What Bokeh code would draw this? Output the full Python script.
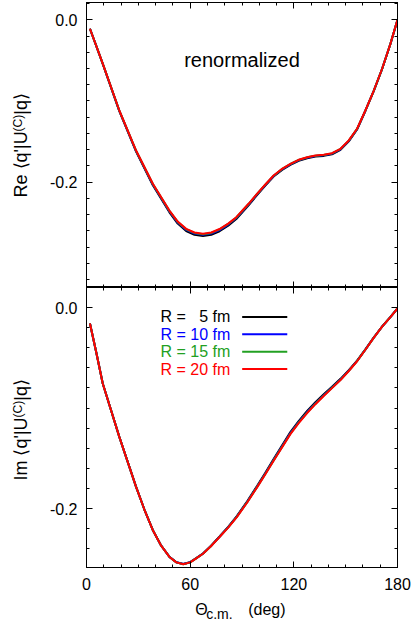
import math
from bokeh.plotting import figure
from bokeh.models import (ColumnDataSource, LinearAxis, SingleIntervalTicker,
                          CustomJSTickFormatter, Label, Range1d)
from bokeh.layouts import column, row
from bokeh.embed import file_html
from bokeh.resources import INLINE
from bokeh.core.properties import value

# ---------------- data ----------------
theta_re = [2, 5.7, 9.4, 19, 28.7, 38.4, 48, 52.8, 57.7, 62.5, 67.4, 72.2, 77, 82,
            86.7, 93.8, 98.7, 103.5, 108.3, 113.2, 118, 122.8, 127.7, 132.5, 137.3,
            142.1, 147, 151.8, 156.6, 161.4, 166.3, 171.1, 175.9, 180]
re_r20 = [-0.011, -0.0325, -0.054, -0.1117, -0.161, -0.202, -0.2349, -0.2485,
          -0.2575, -0.2620, -0.2635, -0.2620, -0.2577, -0.2510, -0.2431, -0.2266,
          -0.2143, -0.2028, -0.1918, -0.1835, -0.1774, -0.1724, -0.1692, -0.1671,
          -0.1663, -0.1643, -0.1589, -0.1486, -0.1342, -0.1117, -0.0871, -0.0603,
          -0.0296, 0.000]
re_r15 = [-0.011, -0.0325, -0.054, -0.1118, -0.1612, -0.2023, -0.2353, -0.2489,
          -0.2580, -0.2625, -0.2640, -0.2625, -0.2582, -0.2514, -0.2435, -0.2269,
          -0.2145, -0.2030, -0.1920, -0.1837, -0.1776, -0.1726, -0.1694, -0.1673,
          -0.1665, -0.1645, -0.1591, -0.1488, -0.1344, -0.1118, -0.0872, -0.0604,
          -0.0296, 0.000]
re_r10 = [-0.011, -0.0325, -0.0541, -0.1121, -0.1617, -0.2029, -0.2360, -0.2497,
          -0.2588, -0.2633, -0.2648, -0.2633, -0.2590, -0.2522, -0.2442, -0.2275,
          -0.2151, -0.2035, -0.1924, -0.1841, -0.1780, -0.1730, -0.1698, -0.1677,
          -0.1669, -0.1649, -0.1595, -0.1491, -0.1346, -0.1120, -0.0873, -0.0604,
          -0.0297, 0.000]
re_r5 = [-0.011, -0.0326, -0.0543, -0.1125, -0.1624, -0.2038, -0.2371, -0.2510,
         -0.2602, -0.2647, -0.2662, -0.2647, -0.2604, -0.2535, -0.2453, -0.2285,
         -0.2159, -0.2042, -0.1931, -0.1848, -0.1787, -0.1737, -0.1705, -0.1684,
         -0.1676, -0.1656, -0.1602, -0.1497, -0.1351, -0.1123, -0.0876, -0.0606,
         -0.0298, 0.000]

theta_im = [2, 5.7, 9.4, 19, 28.7, 33.5, 38.4, 43, 48, 52, 56, 60, 63.5, 67.4, 72,
            77, 82, 87, 93, 98.7, 103.5, 108.3, 118, 122.8, 127.7, 132.5, 137.3,
            142.1, 147, 151.8, 156.6, 161.4, 166.3, 171.1, 175.9, 180]
im_r20 = [-0.0159, -0.045, -0.0756, -0.1287, -0.1785, -0.2010, -0.2216, -0.2364,
          -0.2482, -0.2536, -0.2554, -0.2536, -0.2496, -0.2450, -0.2375, -0.2283,
          -0.2190, -0.2085, -0.1940, -0.1790, -0.1660, -0.1525, -0.1260, -0.1150,
          -0.1050, -0.0962, -0.0880, -0.0802, -0.0722, -0.0632, -0.0535, -0.0420,
          -0.0300, -0.0190, -0.0095, -0.001]
im_r15 = [-0.0159, -0.045, -0.0756, -0.1287, -0.1785, -0.2010, -0.2216, -0.2364,
          -0.2482, -0.2536, -0.2554, -0.2536, -0.2496, -0.2450, -0.2375, -0.2282,
          -0.2188, -0.2083, -0.1937, -0.1787, -0.1656, -0.1521, -0.1256, -0.1146,
          -0.1046, -0.0958, -0.0877, -0.0799, -0.0720, -0.0631, -0.0534, -0.0420,
          -0.0300, -0.0190, -0.0095, -0.001]
im_r10 = [-0.0159, -0.045, -0.0756, -0.1287, -0.1785, -0.2010, -0.2216, -0.2364,
          -0.2481, -0.2535, -0.2553, -0.2535, -0.2495, -0.2449, -0.2374, -0.2281,
          -0.2186, -0.2080, -0.1934, -0.1783, -0.1652, -0.1516, -0.1250, -0.1140,
          -0.1040, -0.0952, -0.0872, -0.0795, -0.0716, -0.0628, -0.0532, -0.0419,
          -0.0299, -0.0190, -0.0095, -0.001]
im_r5 = [-0.0159, -0.045, -0.0756, -0.1287, -0.1785, -0.2010, -0.2215, -0.2363,
         -0.2480, -0.2534, -0.2552, -0.2534, -0.2494, -0.2448, -0.2373, -0.2278,
         -0.2182, -0.2075, -0.1928, -0.1776, -0.1644, -0.1507, -0.1240, -0.1130,
         -0.1030, -0.0942, -0.0863, -0.0788, -0.0710, -0.0624, -0.0528, -0.0417,
         -0.0298, -0.0189, -0.0094, -0.001]

series_colors = ["#000000", "#0000ff", "#22a022", "#ff0000"]
legend_labels = ["R = \u20075 fm", "R = 10 fm", "R = 15 fm", "R = 20 fm"]

x_tick_interval = 60
y_tick_interval = 0.2

FONT = "Liberation Sans"
BL, BR = 46, 14   # left/right borders of the plot columns
MID = 0.3465      # em offset between text middle and alphabetic baseline

# ---------------- helpers ----------------
def style_axis(ax, show_labels, ticker, formatter, standoff):
    ax.ticker = ticker
    ax.formatter = formatter
    ax.axis_line_color = "black"
    ax.axis_line_width = 1
    ax.major_tick_in = 6
    ax.major_tick_out = 0
    ax.minor_tick_in = 3
    ax.minor_tick_out = 0
    ax.major_tick_line_color = "black"
    ax.minor_tick_line_color = "black"
    if show_labels:
        ax.major_label_text_font = FONT
        ax.major_label_text_font_size = "16px"
        ax.major_label_text_color = "black"
        ax.major_label_standoff = standoff
    else:
        ax.major_label_text_color = None
        ax.major_label_standoff = 0


def xt():
    return (SingleIntervalTicker(interval=x_tick_interval, num_minor_ticks=6),
            CustomJSTickFormatter(code="return tick.toFixed(0)"))


def yt():
    return (SingleIntervalTicker(interval=y_tick_interval, num_minor_ticks=10),
            CustomJSTickFormatter(code="return tick.toFixed(1)"))


def make_fig(height, y0, y1, b_top, b_bottom, show_x_labels):
    p = figure(width=371, height=height, x_range=Range1d(0, 180),
               y_range=Range1d(y0, y1), output_backend="svg",
               toolbar_location=None, x_axis_type=None, y_axis_type=None,
               min_border_left=BL, min_border_right=BR,
               min_border_top=b_top, min_border_bottom=b_bottom)
    p.outline_line_color = "black"
    p.outline_line_width = 1
    p.background_fill_color = "white"
    p.border_fill_color = "white"
    a = LinearAxis(); style_axis(a, True, *yt(), 9); p.add_layout(a, "left")
    a = LinearAxis(); style_axis(a, False, *yt(), 0); p.add_layout(a, "right")
    a = LinearAxis(); style_axis(a, show_x_labels, *xt(), 10); p.add_layout(a, "below")
    a = LinearAxis(); style_axis(a, False, *xt(), 0); p.add_layout(a, "above")
    return p


def text_fig(width, height, xr, yr, bl=0, br=0):
    p = figure(width=width, height=height, x_range=Range1d(*xr),
               y_range=Range1d(*yr), output_backend="svg",
               toolbar_location=None, x_axis_type=None, y_axis_type=None,
               min_border_left=bl, min_border_right=br,
               min_border_top=0, min_border_bottom=0)
    p.outline_line_color = None
    p.background_fill_color = "white"
    p.border_fill_color = "white"
    return p


def put(p, x, y, txt, size, angle=0.0):
    p.text(x=[x], y=[y], text=[txt], angle=angle, text_font=value(FONT),
           text_font_size=f"{size}px", text_color="black", text_align="left",
           text_baseline="middle")


# ---------------- top panel (Re) ----------------
top = make_fig(287, -0.3297, 0.0213, 2, 0, False)
for ys, c in zip([re_r5, re_r10, re_r15, re_r20], series_colors):
    top.line(theta_re, ys, line_color=c, line_width=2)
top.add_layout(Label(x=90, y=-0.05, text="renormalized", text_font=FONT,
                     text_font_size="20px", text_align="center",
                     text_baseline="middle", text_color="black"))

# ---------------- bottom panel (Im) ----------------
bot = make_fig(310, -0.2587, 0.0199, 0, 30, True)
for ys, c in zip([im_r5, im_r10, im_r15, im_r20], series_colors):
    bot.line(theta_im, ys, line_color=c, line_width=2)

leg_y0, leg_dy = -0.0094, -0.0173
leg_src = ColumnDataSource(dict(
    text=legend_labels,
    color=series_colors,
    y=[leg_y0 + i * leg_dy for i in range(len(legend_labels))],
))
bot.text(x=83.2, y="y", text="text", text_color="color", source=leg_src,
         text_font=value(FONT), text_font_size="16px",
         text_align="right", text_baseline="middle")
bot.segment(x0=90.1, x1=116.2, y0="y", y1="y", line_color="color",
            line_width=2, source=leg_src)

# ---------------- y-axis titles (rotated, with superscript) ----------------
ylab = text_fig(40, 622, (0, 40), (0, 622))
A = math.pi / 2
BASE, SUPBASE = 26.5, 21.5          # baselines (page x) of main text / superscript
MX = BASE - MID * 18                # middle line for 18px text
SX = SUPBASE - MID * 12             # middle line for 12px superscript
put(ylab, MX, 425, "Re \u27e8q'|U", 18, A)
put(ylab, SX, 425 + 66, "(C)", 12, A)
put(ylab, MX, 425 + 66 + 16.7, "|q\u27e9", 18, A)
put(ylab, MX, 142, "Im \u27e8q'|U", 18, A)
put(ylab, SX, 142 + 63, "(C)", 12, A)
put(ylab, MX, 142 + 63 + 16.7, "|q\u27e9", 18, A)

# ---------------- x-axis title: Theta_c.m.  (deg) ----------------
xlab = text_fig(371, 25, (0, 180), (0, 25), BL, BR)
put(xlab, 62.9, 622 - (615 - MID * 16), "\u0398", 16)
put(xlab, 69.3, 622 - (618 - MID * 14), "c.m.", 14)
put(xlab, 93.6, 622 - (615 - MID * 16), "(deg)", 16)

layout = row(ylab, column(top, bot, xlab, spacing=0), spacing=0)

with open("out.html", "w") as f:
    f.write(file_html(layout, INLINE))
